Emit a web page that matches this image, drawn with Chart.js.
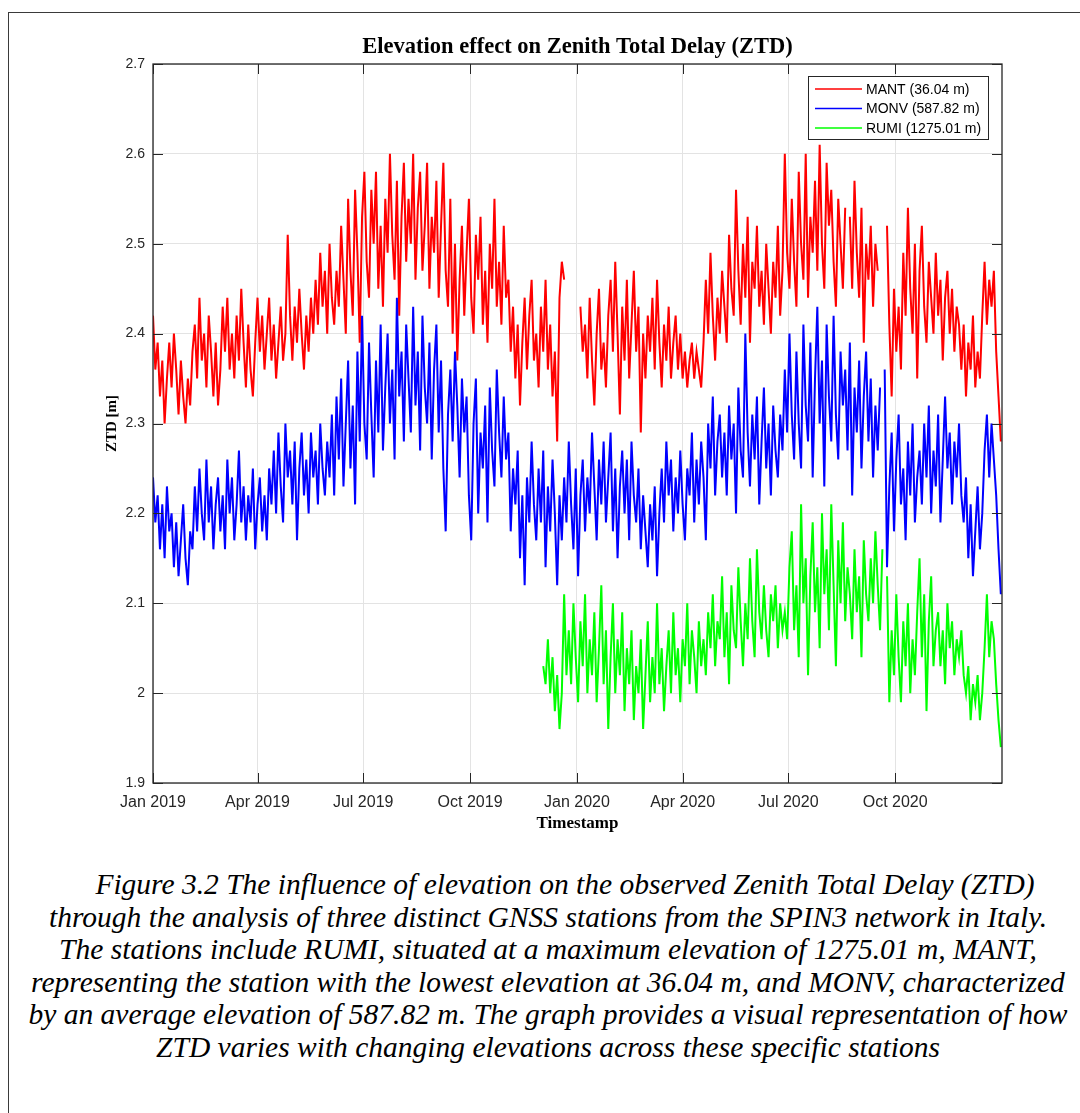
<!DOCTYPE html>
<html>
<head>
<meta charset="utf-8">
<script src="https://cdn.jsdelivr.net/npm/chart.js@4.4.1/dist/chart.umd.min.js"></script>
<style>
    html, body { margin: 0; padding: 0; background: #fff; width: 1080px; height: 1113px; overflow: hidden; }
    #frame { position: absolute; left: 8px; top: 12px; width: 1200px; height: 1200px; border-top: 1.5px solid #3a3a3a; border-left: 1.5px solid #3a3a3a; }
    #wrap { position: absolute; left: 0; top: 0; width: 1080px; height: 850px; }
    #caption { position: absolute; left: 8px; top: 868px; width: 1080px; text-align: center; font-family: 'Liberation Serif', 'Times New Roman', serif; font-style: italic; font-size: 29.5px; line-height: 32.6px; color: #000; }
    #caption div { white-space: nowrap; }
</style>
</head>
<body>
<div id="frame"></div>
<div id="wrap"><canvas id="ztd-chart" width="1080" height="850"></canvas></div>
<div id="caption">
    <div><span style="display:inline-block;width:34px"></span>Figure 3.2 The influence of elevation on the observed Zenith Total Delay (ZTD)</div>
    <div>through the analysis of three distinct GNSS stations from the SPIN3 network in Italy.</div>
    <div>The stations include RUMI, situated at a maximum elevation of 1275.01 m, MANT,</div>
    <div>representing the station with the lowest elevation at 36.04 m, and MONV, characterized</div>
    <div>by an average elevation of 587.82 m. The graph provides a visual representation of how</div>
    <div>ZTD varies with changing elevations across these specific stations</div>
</div>
<script>
// days since 1 Jan 2019, one sample every 2 days
const sampleStep = 2;
const mantStart = 0;
const monvStart = 0;
const rumiStart = 336;

const tickDays = [0, 90, 181, 273, 365, 456, 547, 639];
const tickLabels = ['Jan 2019', 'Apr 2019', 'Jul 2019', 'Oct 2019', 'Jan 2020', 'Apr 2020', 'Jul 2020', 'Oct 2020'];

const mantZtd = [
    2.42, 2.36, 2.39, 2.33, 2.37, 2.30, 2.35, 2.39, 2.34, 2.40,
    2.36, 2.31, 2.37, 2.33, 2.30, 2.35, 2.32, 2.38, 2.41, 2.35,
    2.44, 2.37, 2.40, 2.34, 2.42, 2.38, 2.33, 2.39, 2.32, 2.36,
    2.43, 2.38, 2.44, 2.36, 2.40, 2.35, 2.42, 2.37, 2.45, 2.39,
    2.34, 2.41, 2.36, 2.33, 2.39, 2.44, 2.38, 2.42, 2.36, 2.40,
    2.44, 2.37, 2.41, 2.35, 2.39, 2.43, 2.37, 2.40, 2.51, 2.42,
    2.37, 2.43, 2.39, 2.45, 2.40, 2.36, 2.42, 2.38, 2.44, 2.40,
    2.46, 2.41, 2.49, 2.43, 2.47, 2.40, 2.50, 2.44, 2.41, 2.47,
    2.43, 2.52, 2.46, 2.40, 2.55, 2.47, 2.42, 2.56, 2.49, 2.39,
    2.53, 2.58, 2.48, 2.44, 2.56, 2.50, 2.58, 2.45, 2.52, 2.43,
    2.55, 2.49, 2.60, 2.51, 2.46, 2.57, 2.42, 2.53, 2.59, 2.48,
    2.55, 2.50, 2.60, 2.46, 2.54, 2.58, 2.47, 2.52, 2.59, 2.45,
    2.53, 2.49, 2.57, 2.44, 2.52, 2.59, 2.47, 2.43, 2.55, 2.40,
    2.50, 2.37, 2.46, 2.52, 2.42, 2.49, 2.55, 2.44, 2.40, 2.51,
    2.46, 2.53, 2.41, 2.47, 2.39, 2.50, 2.45, 2.55, 2.43, 2.48,
    2.41, 2.52, 2.44, 2.46, 2.38, 2.43, 2.35, 2.41, 2.32, 2.39,
    2.44, 2.36, 2.42, 2.46, 2.37, 2.40, 2.34, 2.43, 2.38, 2.46,
    2.36, 2.41, 2.33, 2.38, 2.28, 2.44, 2.48, 2.46, null, null,
    null, null, null, null, 2.43, 2.38, 2.41, 2.35, 2.44, 2.37,
    2.32, 2.40, 2.45, 2.36, 2.39, 2.34, 2.42, 2.46, 2.38, 2.48,
    2.40, 2.31, 2.43, 2.37, 2.46, 2.35, 2.41, 2.47, 2.38, 2.43,
    2.29, 2.40, 2.35, 2.42, 2.38, 2.44, 2.36, 2.46, 2.39, 2.34,
    2.41, 2.37, 2.43, 2.35, 2.39, 2.42, 2.36, 2.40, 2.35, 2.38,
    2.34, 2.37, 2.39, 2.35, 2.38, 2.36, 2.34, 2.39, 2.46, 2.40,
    2.49, 2.42, 2.37, 2.44, 2.40, 2.47, 2.43, 2.39, 2.51, 2.45,
    2.42, 2.56, 2.47, 2.41, 2.50, 2.44, 2.53, 2.39, 2.48, 2.45,
    2.52, 2.43, 2.47, 2.41, 2.50, 2.45, 2.40, 2.48, 2.44, 2.52,
    2.42, 2.47, 2.60, 2.49, 2.45, 2.55, 2.48, 2.43, 2.58, 2.50,
    2.46, 2.60, 2.44, 2.53, 2.49, 2.57, 2.47, 2.61, 2.50, 2.45,
    2.59, 2.52, 2.56, 2.48, 2.43, 2.55, 2.50, 2.45, 2.54, null,
    2.53, 2.45, 2.57, 2.49, 2.44, 2.54, 2.39, 2.50, 2.46, 2.52,
    2.43, 2.50, 2.47, null, null, null, 2.52, 2.41, 2.33, 2.45,
    2.38, 2.43, 2.36, 2.49, 2.42, 2.54, 2.45, 2.40, 2.50, 2.35,
    2.47, 2.52, 2.43, 2.39, 2.48, 2.44, 2.40, 2.49, 2.42, 2.46,
    2.37, 2.44, 2.47, 2.40, 2.45, 2.38, 2.43, 2.41, 2.36, 2.41,
    2.33, 2.39, 2.36, 2.42, 2.34, 2.38, 2.35, 2.42, 2.48, 2.41,
    2.46, 2.43, 2.47, 2.38, 2.33, 2.28
];

const monvZtd = [
    2.24, 2.19, 2.22, 2.16, 2.21, 2.15, 2.23, 2.18, 2.20, 2.14,
    2.19, 2.13, 2.17, 2.21, 2.15, 2.12, 2.18, 2.16, 2.23, 2.18,
    2.25, 2.20, 2.17, 2.26, 2.19, 2.23, 2.16, 2.21, 2.24, 2.18,
    2.22, 2.16, 2.26, 2.20, 2.24, 2.17, 2.21, 2.27, 2.19, 2.23,
    2.17, 2.22, 2.19, 2.25, 2.16, 2.21, 2.24, 2.18, 2.22, 2.17,
    2.25, 2.21, 2.27, 2.20, 2.29, 2.23, 2.19, 2.30, 2.24, 2.27,
    2.21, 2.28, 2.17, 2.25, 2.29, 2.22, 2.26, 2.20, 2.29, 2.24,
    2.27, 2.21, 2.30, 2.25, 2.22, 2.28, 2.24, 2.31, 2.22, 2.33,
    2.26, 2.35, 2.23, 2.30, 2.37, 2.25, 2.32, 2.21, 2.38, 2.28,
    2.42, 2.30, 2.26, 2.39, 2.31, 2.24, 2.37, 2.29, 2.41, 2.27,
    2.34, 2.40, 2.30, 2.36, 2.26, 2.44, 2.33, 2.38, 2.28, 2.41,
    2.35, 2.29, 2.43, 2.32, 2.38, 2.27, 2.42, 2.34, 2.30, 2.39,
    2.26, 2.36, 2.41, 2.29, 2.37, 2.25, 2.18, 2.31, 2.36, 2.28,
    2.38, 2.32, 2.24, 2.35, 2.29, 2.33, 2.22, 2.17, 2.30, 2.35,
    2.20, 2.29, 2.25, 2.32, 2.19, 2.34, 2.27, 2.23, 2.36, 2.29,
    2.24, 2.33, 2.26, 2.29, 2.18, 2.25, 2.21, 2.27, 2.15, 2.22,
    2.12, 2.24, 2.19, 2.28, 2.21, 2.17, 2.25, 2.19, 2.27, 2.14,
    2.23, 2.18, 2.26, 2.20, 2.12, 2.22, 2.17, 2.24, 2.19, 2.28,
    2.21, 2.16, 2.25, 2.13, 2.22, 2.26, 2.18, 2.24, 2.20, 2.29,
    2.23, 2.17, 2.26, 2.21, 2.28, 2.19, 2.24, 2.29, 2.18, 2.25,
    2.15, 2.23, 2.27, 2.20, 2.26, 2.17, 2.28, 2.22, 2.19, 2.25,
    2.16, 2.22, 2.18, 2.14, 2.21, 2.17, 2.23, 2.13, 2.20, 2.25,
    2.19, 2.28, 2.22, 2.26, 2.18, 2.24, 2.20, 2.27, 2.21, 2.17,
    2.25, 2.22, 2.29, 2.19, 2.26, 2.21, 2.28, 2.24, 2.17, 2.30,
    2.25, 2.33, 2.22, 2.28, 2.31, 2.24, 2.29, 2.22, 2.32, 2.26,
    2.30, 2.20, 2.34, 2.27, 2.24, 2.40, 2.29, 2.23, 2.31, 2.26,
    2.33, 2.21, 2.28, 2.34, 2.25, 2.30, 2.22, 2.32, 2.27, 2.24,
    2.31, 2.27, 2.36, 2.29, 2.40, 2.31, 2.26, 2.38, 2.30, 2.25,
    2.41, 2.32, 2.28, 2.39, 2.24, 2.35, 2.43, 2.30, 2.37, 2.23,
    2.41, 2.33, 2.28, 2.42, 2.31, 2.26, 2.38, 2.32, 2.36, 2.27,
    2.39, 2.22, 2.34, 2.29, 2.37, 2.25, 2.33, 2.38, 2.28, 2.35,
    2.24, 2.32, 2.27, 2.34, null, 2.36, 2.14, 2.23, 2.29, 2.18,
    2.26, 2.31, 2.21, 2.25, 2.17, 2.28, 2.22, 2.30, 2.19, 2.24,
    2.27, 2.21, 2.30, 2.24, 2.32, 2.20, 2.27, 2.23, 2.31, 2.19,
    2.26, 2.33, 2.25, 2.29, 2.21, 2.28, 2.24, 2.30, 2.22, 2.19,
    2.24, 2.15, 2.21, 2.13, 2.18, 2.23, 2.16, 2.20, 2.27, 2.31,
    2.24, 2.30, 2.26, 2.22, 2.16, 2.11
];

const rumiZtd = [
    2.03, 2.01, 2.06, 2.00, 2.04, 1.98, 2.02, 1.96, 2.00, 2.11,
    2.02, 2.07, 2.01, 2.10, 2.04, 1.99, 2.08, 2.03, 2.11, 2.00,
    2.06, 2.02, 2.09, 1.99, 2.05, 2.12, 2.01, 2.07, 1.96, 2.04,
    2.10, 2.00, 2.06, 2.02, 2.09, 1.98, 2.05, 2.01, 2.07, 1.97,
    2.03, 2.00, 2.06, 1.96, 2.02, 2.08, 1.99, 2.04, 2.00, 2.10,
    2.01, 2.05, 1.98, 2.03, 2.07, 2.00, 2.09, 2.02, 2.05, 1.99,
    2.06, 2.03, 2.10, 2.01, 2.07, 2.04, 2.00, 2.08, 2.03, 2.06,
    2.02, 2.09, 2.05, 2.11, 2.03, 2.08, 2.06, 2.13, 2.04, 2.09,
    2.01, 2.12, 2.07, 2.05, 2.14, 2.08, 2.03, 2.10, 2.06, 2.15,
    2.08, 2.04, 2.16, 2.09, 2.06, 2.12, 2.07, 2.04, 2.11, 2.08,
    2.12, 2.05, 2.10, 2.07, 2.09, 2.06, 2.14, 2.18, 2.07, 2.12,
    2.04, 2.21, 2.10, 2.15, 2.02, 2.13, 2.19, 2.09, 2.14, 2.05,
    2.20, 2.11, 2.16, 2.07, 2.21, 2.12, 2.03, 2.17, 2.10, 2.19,
    2.08, 2.14, 2.11, 2.06, 2.16, 2.09, 2.13, 2.04, 2.17, 2.11,
    2.08, 2.15, 2.10, 2.18, 2.12, 2.07, 2.16, null, 2.13, 1.99,
    2.07, 2.02, 2.11, 2.04, 1.99, 2.08, 2.03, 2.10, 2.00, 2.06,
    2.02, 2.09, 2.15, 2.04, 2.11, 1.98, 2.08, 2.13, 2.03, 2.07,
    2.09, 2.03, 2.07, 2.01, 2.10, 2.05, 2.08, 2.02, 2.06, 2.04,
    2.07, 2.02, 2.00, 2.03, 1.97, 2.01, 1.99, 2.02, 1.97, 2.00,
    2.05, 2.11, 2.04, 2.08, 2.06, 2.01, 1.97, 1.94
];

const stations = [
    { label: 'MANT (36.04 m)', values: mantZtd, start: mantStart, color: '#ff0000' },
    { label: 'MONV (587.82 m)', values: monvZtd, start: monvStart, color: '#0000ff' },
    { label: 'RUMI (1275.01 m)', values: rumiZtd, start: rumiStart, color: '#00ff00' }
];

const sansFont = "'Liberation Sans', Arial, sans-serif";
const serifFont = "'Liberation Serif', 'Times New Roman', serif";
const axisColor = '#262626';

function toPoints(values, start){
    return values.map((v, i) => ({ x: start + i * sampleStep, y: v }));
}

// MATLAB style box, inward ticks, titles and legend
const matlabFrame = {
    id: 'matlabFrame',
    afterDraw(chart) {
        const { ctx, chartArea, scales } = chart;
        const { left, right, top, bottom } = chartArea;
        const tickLen = 10;

        ctx.save();
        ctx.strokeStyle = axisColor;
        ctx.lineWidth = 1.3;
        ctx.strokeRect(left, top, right - left, bottom - top);

        ctx.lineWidth = 1;
        ctx.beginPath();
        scales.x.ticks.forEach(t => {
            const px = Math.round(scales.x.getPixelForValue(t.value)) + 0.5;
            ctx.moveTo(px, bottom); ctx.lineTo(px, bottom - tickLen);
            ctx.moveTo(px, top); ctx.lineTo(px, top + tickLen);
        });
        scales.y.ticks.forEach(t => {
            const py = Math.round(scales.y.getPixelForValue(t.value)) + 0.5;
            ctx.moveTo(left, py); ctx.lineTo(left + tickLen, py);
            ctx.moveTo(right, py); ctx.lineTo(right - tickLen, py);
        });
        ctx.stroke();

        ctx.fillStyle = '#000';
        ctx.textAlign = 'center';
        ctx.textBaseline = 'middle';
        ctx.font = 'bold 22.5px ' + serifFont;
        ctx.fillText('Elevation effect on Zenith Total Delay (ZTD)', (left + right) / 2, 47);

        ctx.font = 'bold 17px ' + serifFont;
        ctx.fillText('Timestamp', (left + right) / 2, 824);

        ctx.save();
        ctx.translate(112, (top + bottom) / 2);
        ctx.rotate(-Math.PI / 2);
        ctx.font = 'bold 15px ' + serifFont;
        ctx.fillText('ZTD [m]', 0, 0);
        ctx.restore();

        // legend box
        const boxW = 180, boxH = 63;
        const bx = right - 14 - boxW, by = top + 12;
        ctx.fillStyle = '#fff';
        ctx.fillRect(bx, by, boxW, boxH);
        ctx.strokeStyle = axisColor;
        ctx.lineWidth = 1;
        ctx.strokeRect(bx + 0.5, by + 0.5, boxW, boxH);
        ctx.font = '14px ' + sansFont;
        ctx.textAlign = 'left';
        chart.data.datasets.forEach((ds, i) => {
            const y = by + 13 + i * 19.5;
            ctx.strokeStyle = ds.borderColor;
            ctx.lineWidth = 1.5;
            ctx.beginPath();
            ctx.moveTo(bx + 7, y); ctx.lineTo(bx + 54, y);
            ctx.stroke();
            ctx.fillStyle = '#000';
            ctx.fillText(ds.label, bx + 58, y + 1);
        });
        ctx.restore();
    }
};

new Chart(document.getElementById('ztd-chart'), {
    type: 'line',
    data: {
        datasets: stations.map((s, i) => ({
            label: s.label,
            data: toPoints(s.values, s.start),
            borderColor: s.color,
            backgroundColor: s.color,
            borderWidth: 2,
            pointRadius: 0,
            tension: 0,
            spanGaps: false,
            order: 3 - i
        }))
    },
    options: {
        responsive: false,
        animation: false,
        layout: { padding: { left: 0, right: 78, top: 64, bottom: 0 } },
        plugins: {
            legend: { display: false },
            title: { display: false },
            tooltip: { enabled: false }
        },
        scales: {
            x: {
                type: 'linear',
                min: 0,
                max: 731,
                afterBuildTicks: scale => { scale.ticks = tickDays.map(v => ({ value: v })); },
                afterFit: scale => { scale.height = 67; },
                ticks: {
                    autoSkip: false,
                    maxRotation: 0,
                    padding: 10,
                    color: axisColor,
                    font: { family: sansFont, size: 16 },
                    callback: value => tickLabels[tickDays.indexOf(value)]
                },
                grid: { color: '#e3e3e3', lineWidth: 1, drawTicks: false },
                border: { display: false }
            },
            y: {
                min: 1.9,
                max: 2.7,
                afterFit: scale => { scale.width = 153; },
                ticks: {
                    stepSize: 0.1,
                    padding: 8,
                    color: axisColor,
                    font: { family: sansFont, size: 14 },
                    callback: value => String(+value.toFixed(1))
                },
                grid: { color: '#e3e3e3', lineWidth: 1, drawTicks: false },
                border: { display: false }
            }
        }
    },
    plugins: [matlabFrame]
});
</script>
</body>
</html>
